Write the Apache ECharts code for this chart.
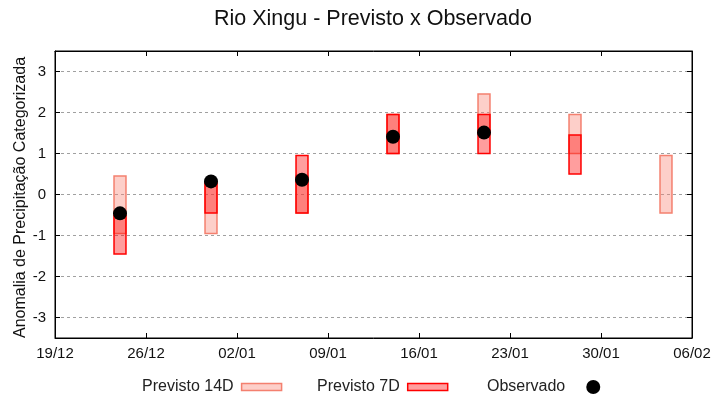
<!DOCTYPE html>
<html>
<head>
<meta charset="utf-8">
<script src="https://cdn.jsdelivr.net/npm/echarts@6/dist/echarts.min.js"></script>
<style>html,body{margin:0;padding:0;background:#fff}#c{width:720px;height:400px}</style>
</head>
<body>
<div id="c"></div>
<script>
const startDate = '2023-12-19';
const tickLabels = ['19/12','26/12','02/01','09/01','16/01','23/01','30/01','06/02'];
const dates = ['2023-12-24','2023-12-31','2024-01-07','2024-01-14','2024-01-21','2024-01-28','2024-02-04'];
const prev14Low  = [-0.95, -0.95, -0.45, 1.0, 1.5, 1.0, -0.45];
const prev14High = [0.45, 0.3, 0.45, 1.95, 2.45, 1.95, 0.95];
const prev7Low   = [-1.45, -0.45, -0.45, 1.0, 1.0, 0.5, null];
const prev7High  = [-0.5, 0.3, 0.95, 1.95, 1.95, 1.45, null];
const observed   = [-0.46, 0.32, 0.36, 1.41, 1.51, null, null];

const FONT = "'Liberation Sans', Arial, sans-serif";
const DAY = 86400000;
const t0 = Date.parse(startDate + 'T00:00:00Z');
const dayOf = d => Math.round((Date.parse(d + 'T00:00:00Z') - t0) / DAY);
const xs = dates.map(dayOf);

const C14 = {fill: 'rgba(250,128,114,0.38)', stroke: '#f4806f'};
const C7 = {fill: 'rgba(255,0,0,0.38)', stroke: '#ff0000'};

function rangeData(lo, hi) {
  const out = [];
  xs.forEach((x, i) => { if (lo[i] != null && hi[i] != null) out.push([x, lo[i], hi[i]]); });
  return out;
}
function makeRender(c) {
  return function (params, api) {
    const x = api.value(0), lo = api.value(1), hi = api.value(2);
    const p1 = api.coord([x, hi]);
    const p2 = api.coord([x, lo]);
    const w = api.size([1, 0])[0] * 0.92;
    return {
      type: 'rect',
      shape: {x: p1[0] - w / 2, y: p1[1], width: w, height: p2[1] - p1[1]},
      style: {fill: c.fill, stroke: c.stroke, lineWidth: 1.5}
    };
  };
}
const obsData = [];
xs.forEach((x, i) => { if (observed[i] != null) obsData.push([x, observed[i]]); });

const chart = echarts.init(document.getElementById('c'), null, {renderer: 'canvas'});
const legendBase = {
  orient: 'horizontal', align: 'right', top: 379, padding: 0,
  textStyle: {fontFamily: FONT, fontSize: 16, color: '#222', padding: [0, 3, 0, 0]},
  itemWidth: 40, itemHeight: 7, selectedMode: false
};
const axisLineStyle = {show: true, onZero: false, lineStyle: {color: '#000', width: 1}};
const tickStyle = {show: true, inside: true, length: 5, lineStyle: {color: '#000'}};
chart.setOption({
  animation: false,
  backgroundColor: '#fff',
  title: {
    text: 'Rio Xingu - Previsto x Observado',
    left: 214, top: 8, padding: 0,
    textStyle: {fontFamily: FONT, fontSize: 21.5, fontWeight: 'normal', color: '#111'}
  },
  legend: [
    Object.assign({}, legendBase, {left: 142, data: [{name: 'Previsto 14D', icon: 'rect', itemStyle: {color: C14.fill, borderColor: C14.stroke, borderWidth: 1.5}}]}),
    Object.assign({}, legendBase, {left: 317, data: [{name: 'Previsto 7D', icon: 'rect', itemStyle: {color: C7.fill, borderColor: C7.stroke, borderWidth: 1.5}}]}),
    Object.assign({}, legendBase, {left: 487, itemWidth: 46, itemHeight: 14, top: 379,
      textStyle: {fontFamily: FONT, fontSize: 16, color: '#222'},
      data: [{name: 'Observado', icon: 'circle', itemStyle: {color: '#000', opacity: 1}}]})
  ],
  grid: {left: 55, right: 28, top: 51, bottom: 62, show: true, borderColor: '#000', borderWidth: 1, backgroundColor: 'transparent'},
  xAxis: [{
    type: 'value', min: 0, max: 49, interval: 7,
    axisLine: axisLineStyle, axisTick: tickStyle,
    axisLabel: {fontFamily: FONT, fontSize: 15, color: '#111', margin: 8,
      formatter: v => tickLabels[Math.round(v / 7)] || ''},
    splitLine: {show: false}
  }, {
    type: 'value', min: 0, max: 49, interval: 7, position: 'top',
    axisLine: axisLineStyle, axisTick: tickStyle,
    axisLabel: {show: false}, splitLine: {show: false}
  }],
  yAxis: [{
    type: 'value', min: -3.5, max: 3.5, splitNumber: 7,
    name: 'Anomalia de Precipitação Categorizada', nameLocation: 'middle', nameGap: 26,
    nameMoveOverlap: false,
    nameTextStyle: {fontFamily: FONT, fontSize: 16, color: '#111', padding: [0, 6, 0, 0]},
    axisLine: axisLineStyle, axisTick: tickStyle,
    axisLabel: {fontFamily: FONT, fontSize: 15, color: '#111', margin: 9,
      showMinLabel: false, showMaxLabel: false,
      formatter: v => Number.isInteger(v) ? String(v) : ''},
    splitLine: {show: true, lineStyle: {color: '#a0a0a0', type: [3, 3], width: 1}}
  }, {
    type: 'value', min: -3.5, max: 3.5, splitNumber: 7, position: 'right',
    axisLine: axisLineStyle, axisTick: tickStyle,
    axisLabel: {show: false}, splitLine: {show: false}
  }],
  series: [
    {name: 'Previsto 14D', type: 'custom', renderItem: makeRender(C14), data: rangeData(prev14Low, prev14High),
     encode: {x: 0, y: [1, 2]}, itemStyle: {color: C14.fill}, z: 2},
    {name: 'Previsto 7D', type: 'custom', renderItem: makeRender(C7), data: rangeData(prev7Low, prev7High),
     encode: {x: 0, y: [1, 2]}, itemStyle: {color: C7.fill}, z: 3},
    {name: 'Observado', type: 'scatter', data: obsData, symbol: 'circle', symbolSize: 14,
     itemStyle: {color: '#000', opacity: 1}, z: 5}
  ]
});
</script>
</body>
</html>
